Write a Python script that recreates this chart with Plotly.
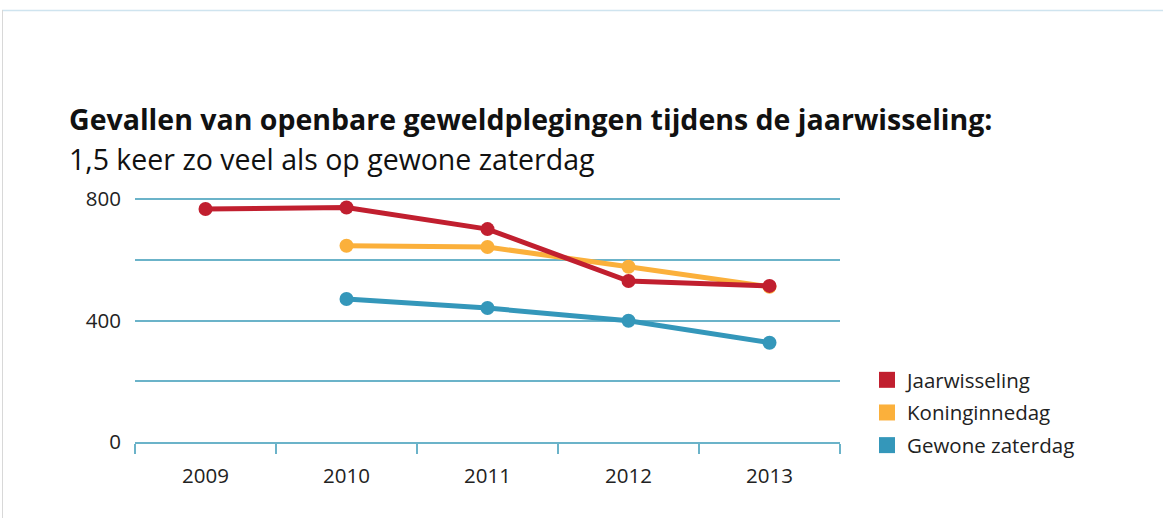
import plotly.graph_objects as go

years = ["2009", "2010", "2011", "2012", "2013"]
jaarwisseling = [767, 772, 701, 530, 514]
koninginnedag = [None, 646, 642, 577, 511]
gewone_zaterdag = [None, 471, 441, 399, 327]

series = [
    ("Jaarwisseling", jaarwisseling, "#C11F2F"),
    ("Koninginnedag", koninginnedag, "#FBB03B"),
    ("Gewone zaterdag", gewone_zaterdag, "#3497BA"),
]

W, H = 1163, 518
L, R, T, B = 135, 840, 196, 442  # plot area in px (800 sits at y=199)


def px(x):
    return (x - L) / (R - L)


def py(y):
    return (B - y) / (B - T)


fig = go.Figure()

# Koninginnedag drawn under Jaarwisseling
for name, vals, col in [series[2], series[1], series[0]]:
    fig.add_trace(go.Scatter(
        x=years, y=vals, mode="lines+markers", name=name, showlegend=False,
        line=dict(color=col, width=5), marker=dict(color=col, size=14),
        cliponaxis=False, connectgaps=False,
    ))

# square legend entries
for i, (name, vals, col) in enumerate(series):
    fig.add_trace(go.Scatter(
        x=[None], y=[None], mode="markers", name=name, legendgroup=str(i),
        marker=dict(color=col, size=16, symbol="square"),
    ))

grid = "#6BB3C9"
font = "'Open Sans', Lato, sans-serif"

fig.update_layout(
    width=W, height=H,
    margin=dict(l=L, r=W - R, t=T, b=H - B),
    paper_bgcolor="white", plot_bgcolor="white",
    font=dict(family=font, size=20, color="#222222"),
    showlegend=True,
    legend=dict(x=px(867), y=py(360), xanchor="left", yanchor="top",
                font=dict(size=20.5, color="#222222"), itemwidth=30,
                tracegroupgap=3, bgcolor="rgba(0,0,0,0)"),
    xaxis=dict(type="category", range=[-0.5, 4.5], showgrid=False,
               showline=True, linecolor=grid, linewidth=2,
               ticks="outside", tickson="boundaries", ticklen=10,
               tickcolor=grid, tickwidth=2, tickfont=dict(size=20.5),
               ticklabelstandoff=14,
               zeroline=False, fixedrange=True),
    yaxis=dict(range=[0, 810], tickvals=[0, 400, 800], showgrid=True,
               gridcolor=grid, gridwidth=1.5, zeroline=False, ticks="",
               ticklabelstandoff=13, tickfont=dict(size=20.5),
               minor=dict(tickvals=[200, 600], showgrid=True, gridcolor=grid, gridwidth=1.5),
               fixedrange=True),
)

fig.add_annotation(text="<b>Gevallen van openbare geweldplegingen tijdens de jaarwisseling:</b>",
                   xref="paper", yref="paper", x=px(67), y=py(119), xanchor="left",
                   yanchor="middle", showarrow=False, font=dict(size=28.5, color="#111111"))
fig.add_annotation(text="1,5 keer zo veel als op gewone zaterdag",
                   xref="paper", yref="paper", x=px(67), y=py(159), xanchor="left",
                   yanchor="middle", showarrow=False, font=dict(size=28.5, color="#111111"))

# frame around the graphic
fig.add_shape(type="line", xref="paper", yref="paper", x0=px(2), x1=px(W), y0=py(10.5), y1=py(10.5),
              line=dict(color="#CFE4EF", width=1.5))
fig.add_shape(type="line", xref="paper", yref="paper", x0=px(2.5), x1=px(2.5), y0=py(10), y1=py(H),
              line=dict(color="#D8D8D8", width=1))

fig.write_html("out.html", config={"displayModeBar": False},
               post_script="document.body.style.margin='0';")
